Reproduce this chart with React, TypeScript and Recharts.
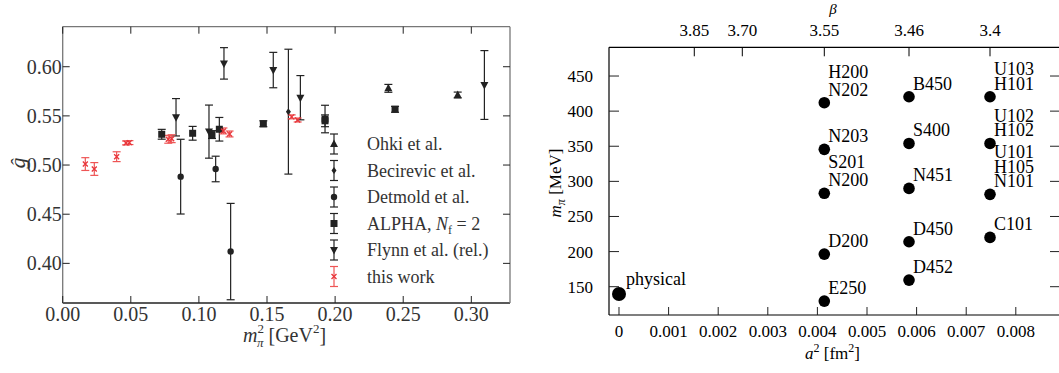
import React from 'react';
import { ScatterChart, Scatter, XAxis, YAxis, ErrorBar, Legend } from 'recharts';

// ---- left panel: g-hat vs m_pi^2 ----
const ohkiX = [0.2391, 0.29];
const ohkiY = [0.578, 0.5712];
const ohkiErr = [0.004, 0.003];

const becirevicX = [0.1657];
const becirevicY = [0.5543];
const becirevicErr = [0.0635];

const detmoldX = [0.0866, 0.1123, 0.1233];
const detmoldY = [0.4882, 0.496, 0.412];
const detmoldErr = [0.038, 0.013, 0.049];

const alphaX = [0.0727, 0.0954, 0.1096, 0.115, 0.1473, 0.1926, 0.1926, 0.244];
const alphaY = [0.5313, 0.5323, 0.531, 0.5364, 0.542, 0.5468, 0.545, 0.5567];
const alphaErr = [0.005, 0.007, 0.004, 0.012, 0.003, 0.014, 0.006, 0.003];

const flynnX = [0.0832, 0.1074, 0.1184, 0.1546, 0.1745, 0.3096];
const flynnY = [0.5486, 0.534, 0.6034, 0.5966, 0.5685, 0.5814];
const flynnErr = [0.019, 0.027, 0.016, 0.018, 0.0225, 0.035];

const thisWorkX = [0.0166, 0.0232, 0.0396, 0.0465, 0.049, 0.0775, 0.08, 0.118, 0.1225, 0.1681, 0.1725];
const thisWorkY = [0.501, 0.496, 0.5085, 0.5225, 0.5228, 0.5262, 0.5268, 0.5347, 0.5316, 0.549, 0.5458];
const thisWorkErr = [0.0065, 0.0065, 0.005, 0.002, 0.002, 0.004, 0.004, 0.003, 0.003, 0.002, 0.002];

const legendNames = ['Ohki et al.', 'Becirevic et al.', 'Detmold et al.', 'ALPHA', 'Flynn et al. (rel.)', 'this work'];

const gTicksX = [0, 0.05, 0.1, 0.15, 0.2, 0.25, 0.3];
const gTicksY = [0.4, 0.45, 0.5, 0.55, 0.6];

// ---- right panel: ensembles ----
const physicalA2 = [0];
const physicalMpi = [139.6];
const physicalNames = [['physical']];

const columnA2 = [0.004139, 0.005847, 0.00748]; // beta = 3.55, 3.46, 3.4

const beta355Mpi = [412, 345.6, 283, 196.4, 129.5];
const beta355Names = [['H200', 'N202'], ['N203'], ['S201', 'N200'], ['D200'], ['E250']];

const beta346Mpi = [420.5, 354, 290, 214, 159.4];
const beta346Names = [['B450'], ['S400'], ['N451'], ['D450'], ['D452']];

const beta340Mpi = [420.5, 354, 281.5, 220.2];
const beta340Names = [['U103', 'H101'], ['U102', 'H102'], ['U101', 'H105', 'N101'], ['C101']];

const betaTickA2 = [0.001518, 0.002486, 0.004139, 0.005847, 0.00748];
const betaTickLabels = ['3.85', '3.70', '3.55', '3.46', '3.4'];

const a2Ticks = [0, 0.001, 0.002, 0.003, 0.004, 0.005, 0.006, 0.007, 0.008];
const mpiTicks = [150, 200, 250, 300, 350, 400, 450];

const serif = '"Liberation Serif", "Times New Roman", serif';
const RED = '#e8353a';
const INK = '#222';
const GREY_TXT = '#333';

const zipPts = (xs: number[], ys: number[], es: number[]) => xs.map((x, i) => ({ x, y: ys[i], err: es[i] }));
const column = (a2: number, ys: number[], names: string[][]) => ys.map((y, i) => ({ x: a2, y, names: names[i] }));

// marker shapes
const Square = ({ cx, cy }: any) => <rect x={cx - 3.5} y={cy - 3.5} width={7} height={7} fill={INK} />;
const TriUp = ({ cx, cy }: any) => <path d={`M${cx},${cy - 4.5} L${cx + 4},${cy + 3} L${cx - 4},${cy + 3} Z`} fill={INK} />;
const TriDown = ({ cx, cy }: any) => <path d={`M${cx},${cy + 4.5} L${cx + 4},${cy - 3} L${cx - 4},${cy - 3} Z`} fill={INK} />;
const Dot = ({ cx, cy }: any) => <circle cx={cx} cy={cy} r={3.2} fill={INK} />;
const Diamond = ({ cx, cy }: any) => <path d={`M${cx},${cy - 3.5} L${cx + 2.5},${cy} L${cx},${cy + 3.5} L${cx - 2.5},${cy} Z`} fill={INK} />;
const Cross = ({ cx, cy }: any) => (
  <path d={`M${cx - 2.5},${cy - 2.5} L${cx + 2.5},${cy + 2.5} M${cx - 2.5},${cy + 2.5} L${cx + 2.5},${cy - 2.5}`} stroke={RED} strokeWidth={1.3} />
);
const legendShapes = [TriUp, Diamond, Dot, Square, TriDown, Cross];

// inward ticks with labels
const bottomTick = (len: number, dy: number, size: number, color: string, fmt: (v: number) => string) => (props: any) => {
  const { x, y, payload } = props;
  return (
    <g>
      <line x1={x} y1={y} x2={x} y2={y - len} stroke={INK} strokeWidth={1} />
      <text x={x} y={y + dy} textAnchor="middle" fontSize={size} fontFamily={serif} fill={color}>{fmt(payload.value)}</text>
    </g>
  );
};
const leftTick = (len: number, dx: number, size: number, color: string, fmt: (v: number) => string) => (props: any) => {
  const { x, y, payload } = props;
  return (
    <g>
      <line x1={x} y1={y} x2={x + len} y2={y} stroke={INK} strokeWidth={1} />
      <text x={x - dx} y={y} dy="0.35em" textAnchor="end" fontSize={size} fontFamily={serif} fill={color}>{fmt(payload.value)}</text>
    </g>
  );
};
const topTick = (len: number) => (props: any) => {
  const { x, y } = props;
  return <line x1={x} y1={y} x2={x} y2={y + len} stroke={INK} strokeWidth={1} />;
};
const rightTick = (len: number) => (props: any) => {
  const { x, y } = props;
  return <line x1={x} y1={y} x2={x - len} y2={y} stroke={INK} strokeWidth={1} />;
};
const betaTick = (props: any) => {
  const { x, y, payload } = props;
  const i = betaTickA2.indexOf(payload.value);
  return (
    <g>
      <line x1={x} y1={y} x2={x} y2={y + 9} stroke="#000" strokeWidth={1} />
      <text x={x} y={y - 11} textAnchor="middle" fontSize={17} fontFamily={serif} fill="#000">{betaTickLabels[i]}</text>
    </g>
  );
};

const GLegend = () => (
  <svg width={200} height={160} style={{ overflow: 'visible' }}>
    {legendNames.map((name, i) => {
      const cy = 14 + i * 26.5;
      const Shape = legendShapes[i];
      const col = i === 5 ? '#ee5555' : INK;
      return (
        <g key={name}>
          <line x1={14} y1={cy - 10} x2={14} y2={cy + 10} stroke={col} strokeWidth={1.2} />
          <line x1={10} y1={cy - 10} x2={18} y2={cy - 10} stroke={col} strokeWidth={1.2} />
          <line x1={10} y1={cy + 10} x2={18} y2={cy + 10} stroke={col} strokeWidth={1.2} />
          <Shape cx={14} cy={cy} />
          <text x={47} y={cy + 6} fontSize={18} fontFamily={serif} fill={GREY_TXT}>
            {i === 3 ? (
              <>
                ALPHA, <tspan fontStyle="italic">N</tspan>
                <tspan fontSize={12} dy={4}>f</tspan>
                <tspan dy={-4}> = 2</tspan>
              </>
            ) : name}
          </text>
        </g>
      );
    })}
  </svg>
);

const EnsembleDot = ({ cx, cy, payload, gap, r }: any) => (
  <g>
    <circle cx={cx} cy={cy} r={r} fill="#000" />
    {payload.names.map((n: string, k: number) => (
      <text key={n} x={cx + (r > 6 ? 7 : 4)} y={cy - (r > 6 ? 9 : 7) - (payload.names.length - 1 - k) * gap}
        fontSize={18} fontFamily={serif} fill="#000">{n}</text>
    ))}
  </g>
);

const errProps = { dataKey: 'err', width: 4, direction: 'y' as const, strokeWidth: 1.2, isAnimationActive: false };

export default function App() {
  return (
    <div style={{ position: 'absolute', left: 0, top: 0, width: 1059, height: 373, overflow: 'hidden', background: '#fff' }}>
      <div style={{ position: 'absolute', left: 0, top: 0 }}>
        <ScatterChart width={530} height={373} margin={{ top: 25.7, right: 19, bottom: 0, left: 0 }}>
          <XAxis xAxisId="b" dataKey="x" type="number" domain={[0, 0.3284]} allowDataOverflow ticks={gTicksX} interval={0}
            height={70} tickSize={0} tickMargin={0} tickLine={false} axisLine={{ stroke: '#222', strokeWidth: 1.3 }}
            tick={bottomTick(7, 18, 20, GREY_TXT, (v) => v.toFixed(2))}
            label={{
              content: () => (
                <text x={243} y={342} fontSize={20} fontFamily={serif} fill={GREY_TXT}>
                  <tspan fontStyle="italic">m</tspan>
                  <tspan fontSize={13} dy={-9}>2</tspan>
                  <tspan fontSize={13} fontStyle="italic" dx={-7} dy={14}>π</tspan>
                  <tspan dy={-5}> [GeV</tspan>
                  <tspan fontSize={13} dy={-9}>2</tspan>
                  <tspan dy={9}>]</tspan>
                </text>
              ),
            }} />
          <XAxis xAxisId="t" orientation="top" dataKey="x" type="number" domain={[0, 0.3284]} allowDataOverflow ticks={gTicksX}
            interval={0} height={1} tickSize={0} tickMargin={0} tickLine={false} axisLine={{ stroke: '#777', strokeWidth: 1.3 }}
            tick={topTick(7)} />
          <YAxis yAxisId="l" dataKey="y" type="number" domain={[0.3597, 0.6407]} allowDataOverflow ticks={gTicksY} interval={0}
            width={62.7} tickSize={0} tickMargin={0} tickLine={false} axisLine={{ stroke: '#777', strokeWidth: 1.3 }}
            tick={leftTick(7, 1, 20, GREY_TXT, (v) => v.toFixed(2))}
            label={{
              content: () => (
                <text x={25} y={163} transform="rotate(-90 25 163)" textAnchor="middle" fontSize={22} fontStyle="italic"
                  fontFamily={serif} fill={GREY_TXT}>ĝ</text>
              ),
            }} />
          <YAxis yAxisId="r" orientation="right" dataKey="y" type="number" domain={[0.3597, 0.6407]} allowDataOverflow
            ticks={gTicksY} interval={0} width={1} tickSize={0} tickMargin={0} tickLine={false}
            axisLine={{ stroke: '#777', strokeWidth: 1.3 }} tick={rightTick(7)} />

          <Scatter name={legendNames[0]} xAxisId="b" yAxisId="l" data={zipPts(ohkiX, ohkiY, ohkiErr)} shape={TriUp} isAnimationActive={false}>
            <ErrorBar {...errProps} stroke={INK} />
          </Scatter>
          <Scatter name={legendNames[1]} xAxisId="b" yAxisId="l" data={zipPts(becirevicX, becirevicY, becirevicErr)} shape={Diamond} isAnimationActive={false}>
            <ErrorBar {...errProps} stroke={INK} />
          </Scatter>
          <Scatter name={legendNames[2]} xAxisId="b" yAxisId="l" data={zipPts(detmoldX, detmoldY, detmoldErr)} shape={Dot} isAnimationActive={false}>
            <ErrorBar {...errProps} stroke={INK} />
          </Scatter>
          <Scatter name={legendNames[3]} xAxisId="b" yAxisId="l" data={zipPts(alphaX, alphaY, alphaErr)} shape={Square} isAnimationActive={false}>
            <ErrorBar {...errProps} stroke={INK} />
          </Scatter>
          <Scatter name={legendNames[4]} xAxisId="b" yAxisId="l" data={zipPts(flynnX, flynnY, flynnErr)} shape={TriDown} isAnimationActive={false}>
            <ErrorBar {...errProps} stroke={INK} />
          </Scatter>
          <Scatter name={legendNames[5]} xAxisId="b" yAxisId="l" data={zipPts(thisWorkX, thisWorkY, thisWorkErr)} shape={Cross} isAnimationActive={false}>
            <ErrorBar {...errProps} stroke="#ee5555" />
          </Scatter>
          <Legend layout="horizontal" verticalAlign="middle" align="center" content={() => <GLegend />}
            wrapperStyle={{ position: 'absolute', left: 320, top: 130, width: 200, height: 160 }} />
        </ScatterChart>
      </div>

      <div style={{ position: 'absolute', left: 540, top: 0 }}>
        <ScatterChart width={540} height={373} margin={{ top: 46.3, right: 19, bottom: 0, left: 0 }}>
          <XAxis xAxisId="b" dataKey="x" type="number" domain={[-0.0002016, 0.008891]} allowDataOverflow ticks={a2Ticks}
            interval={0} height={58} tickSize={0} tickMargin={0} tickLine={false} axisLine={{ stroke: '#000', strokeWidth: 1.2 }}
            tick={bottomTick(8, 22, 17, '#000', (v) => (v === 0 ? '0' : v.toFixed(3)))}
            label={{
              content: () => (
                <text x={265} y={359} fontSize={17} fontFamily={serif} fill="#000">
                  <tspan fontStyle="italic">a</tspan>
                  <tspan fontSize={12} dy={-7}>2</tspan>
                  <tspan dy={7}> [fm</tspan>
                  <tspan fontSize={12} dy={-7}>2</tspan>
                  <tspan dy={7}>]</tspan>
                </text>
              ),
            }} />
          <XAxis xAxisId="t" orientation="top" dataKey="x" type="number" domain={[-0.0002016, 0.008891]} allowDataOverflow
            ticks={betaTickA2} interval={0} height={1} tickSize={0} tickMargin={0} tickLine={false}
            axisLine={{ stroke: '#000', strokeWidth: 1.2 }} tick={betaTick}
            label={{
              content: () => (
                <text x={293} y={14} textAnchor="middle" fontSize={15} fontStyle="italic" fontFamily={serif} fill="#000">β</text>
              ),
            }} />
          <YAxis yAxisId="l" dataKey="y" type="number" domain={[109.7, 490.9]} allowDataOverflow ticks={mpiTicks} interval={0}
            width={69} tickSize={0} tickMargin={0} tickLine={false} axisLine={{ stroke: '#000', strokeWidth: 1.2 }}
            tick={leftTick(10, 16, 17, '#000', (v) => String(v))}
            label={{
              content: () => (
                <text x={21} y={183} transform="rotate(-90 21 183)" textAnchor="middle" fontSize={17} fontFamily={serif} fill="#000">
                  <tspan fontStyle="italic">m</tspan>
                  <tspan fontSize={12} fontStyle="italic" dy={4}>π</tspan>
                  <tspan dy={-4}> [MeV]</tspan>
                </text>
              ),
            }} />
          <YAxis yAxisId="r" orientation="right" dataKey="y" type="number" domain={[109.7, 490.9]} allowDataOverflow
            ticks={mpiTicks} interval={0} width={1} tickSize={0} tickMargin={0} tickLine={false}
            axisLine={{ stroke: '#000', strokeWidth: 1.2 }} tick={rightTick(10)} />

          <Scatter xAxisId="b" yAxisId="l" data={column(physicalA2[0], physicalMpi, physicalNames)}
            shape={(p: any) => <EnsembleDot {...p} gap={18} r={7} />} isAnimationActive={false} />
          <Scatter xAxisId="b" yAxisId="l" data={column(columnA2[0], beta355Mpi, beta355Names)}
            shape={(p: any) => <EnsembleDot {...p} gap={18} r={5.8} />} isAnimationActive={false} />
          <Scatter xAxisId="b" yAxisId="l" data={column(columnA2[1], beta346Mpi, beta346Names)}
            shape={(p: any) => <EnsembleDot {...p} gap={18} r={5.8} />} isAnimationActive={false} />
          <Scatter xAxisId="b" yAxisId="l" data={column(columnA2[2], beta340Mpi, beta340Names)}
            shape={(p: any) => <EnsembleDot {...p} gap={14.5} r={5.8} />} isAnimationActive={false} />
        </ScatterChart>
      </div>
    </div>
  );
}
